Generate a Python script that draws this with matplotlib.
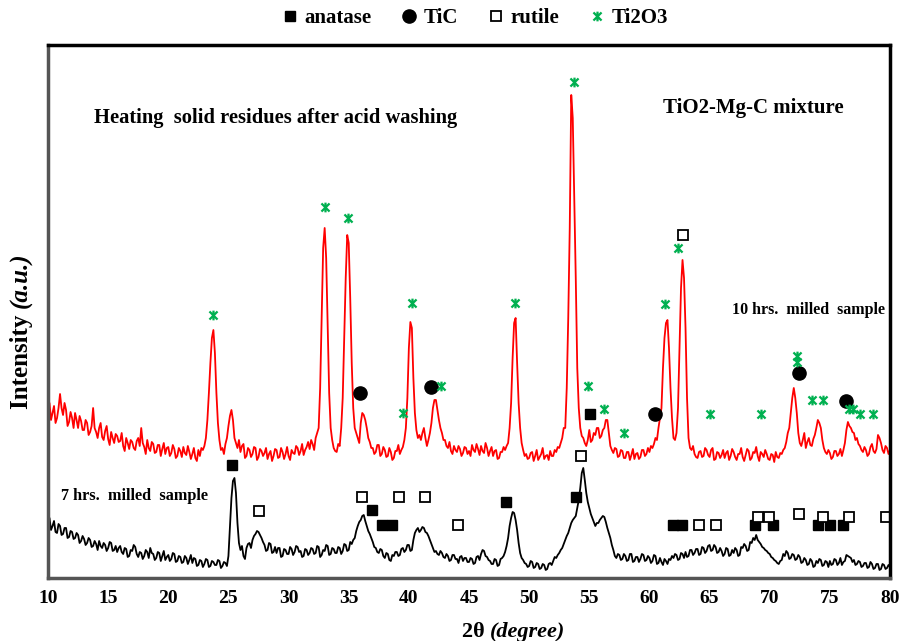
import numpy as np
import matplotlib
matplotlib.use("Agg")
import matplotlib.pyplot as plt
from matplotlib.path import Path

# XRD patterns, 2theta grid 10..80 step 0.125 (arbitrary intensity units)
two_theta = np.arange(10, 80.001, 0.125)

red_10h = [
    168, 175, 158, 165, 172, 155, 160, 170,   184, 170, 163, 175, 168, 152, 156, 166,
    160, 150, 165, 158, 150, 162, 157, 148,   148, 158, 155, 143, 146, 152, 170, 150,
    146, 140, 150, 155, 141, 138, 147, 152,   139, 133, 146, 140, 135, 144, 142, 136,
    137, 145, 132, 127, 140, 135, 129, 138,   136, 130, 128, 137, 140, 132, 150, 135,
    131, 124, 138, 130, 127, 136, 134, 125,   126, 133, 133, 122, 129, 135, 124, 130,
    131, 122, 125, 133, 129, 120, 122, 130,   127, 121, 131, 125, 123, 132, 126, 119,
    124, 130, 120, 117, 128, 122, 130, 128,   132, 140, 158, 185, 215, 240, 248, 225,
    185, 155, 138, 128, 130, 124, 134, 140,   152, 162, 168, 158, 140, 135, 130, 138,
    126, 132, 134, 120, 122, 130, 128, 121,   124, 131, 130, 118, 121, 129, 127, 122,
    125, 130, 119, 124, 127, 117, 122, 129,   128, 120, 121, 130, 126, 119, 124, 131,
    122, 118, 128, 125, 124, 132, 130, 123,   127, 134, 123, 128, 131, 136, 129, 138,
    134, 128, 140, 145, 150, 190, 260, 330,   350, 320, 250, 185, 150, 138, 130, 127,
    126, 134, 132, 150, 180, 240, 300, 343,   335, 280, 215, 170, 150, 145, 140, 135,
    155, 165, 163, 158, 150, 140, 136, 130,   130, 124, 126, 133, 133, 122, 124, 131,
    128, 121, 122, 130, 126, 118, 120, 127,   127, 133, 124, 128, 131, 138, 150, 180,
    230, 256, 250, 200, 165, 148, 140, 143,   138, 145, 150, 140, 132, 138, 145, 155,
    170, 178, 178, 168, 158, 150, 145, 138,   138, 132, 130, 136, 127, 124, 132, 128,
    126, 132, 129, 122, 125, 131, 130, 124,   127, 122, 133, 128, 126, 134, 129, 123,
    132, 127, 125, 135, 130, 122, 127, 131,   122, 127, 128, 119, 120, 126, 126, 131,
    128, 132, 135, 150, 175, 220, 255, 260,   215, 175, 150, 135, 128, 122, 124, 119,
    120, 125, 126, 117, 122, 128, 118, 121,   124, 130, 119, 122, 123, 118, 127, 122,
    122, 128, 126, 131, 130, 135, 140, 150,   150, 190, 260, 350, 483, 460, 380, 300,
    210, 170, 150, 142, 140, 135, 132, 138,   148, 136, 138, 145, 143, 150, 150, 140,
    142, 148, 150, 158, 158, 145, 132, 128,   125, 130, 129, 121, 122, 128, 127, 120,
    120, 126, 126, 118, 123, 129, 119, 124,   125, 119, 121, 128, 128, 122, 124, 130,
    126, 132, 130, 134, 140, 138, 150, 160,   170, 210, 240, 255, 258, 230, 190, 160,
    140, 138, 145, 170, 230, 290, 318, 300,   250, 180, 140, 130, 128, 132, 124, 121,
    120, 126, 127, 121, 122, 130, 128, 123,   121, 128, 130, 118, 119, 126, 125, 120,
    123, 128, 120, 125, 127, 118, 122, 129,   126, 121, 118, 124, 124, 130, 121, 117,
    123, 129, 127, 118, 120, 126, 125, 131,   122, 117, 126, 124, 121, 128, 124, 119,
    118, 124, 123, 116, 126, 121, 120, 125,   124, 128, 130, 136, 145, 150, 165, 180,
    190, 180, 165, 145, 135, 132, 138, 145,   130, 136, 140, 133, 132, 139, 143, 150,
    158, 155, 150, 138, 130, 126, 124, 128,   125, 119, 121, 127, 127, 122, 124, 129,
    122, 128, 135, 148, 156, 152, 150, 146,   145, 138, 140, 134, 132, 128, 126, 131,
    128, 122, 124, 131, 134, 127, 125, 129,   143, 140, 135, 128, 125, 132, 130, 124,
    128,
]

black_7h = [
    55, 60, 48, 52, 57, 46, 45, 54,   52, 43, 44, 50, 50, 40, 41, 47,
    46, 39, 40, 45, 43, 35, 37, 42,   39, 33, 35, 40, 38, 31, 32, 37,
    34, 28, 37, 32, 30, 35, 33, 27,   30, 36, 35, 27, 28, 32, 26, 30,
    32, 26, 24, 30, 29, 21, 22, 28,   27, 33, 31, 24, 21, 26, 25, 19,
    22, 28, 26, 20, 30, 25, 24, 18,   20, 26, 25, 17, 22, 27, 18, 21,
    23, 17, 19, 25, 24, 16, 17, 22,   21, 15, 16, 22, 20, 14, 18, 23,
    15, 20, 19, 12, 13, 18, 17, 11,   14, 19, 18, 11, 12, 17, 16, 13,
    13, 18, 17, 10, 12, 16, 15, 12,   22, 50, 80, 97, 100, 85, 55, 35,
    28, 32, 22, 19, 30, 34, 35, 30,   38, 42, 44, 47, 46, 43, 40, 36,
    33, 27, 28, 35, 34, 25, 26, 31,   25, 30, 30, 21, 22, 29, 28, 24,
    24, 31, 29, 23, 26, 32, 31, 26,   27, 21, 22, 29, 28, 23, 25, 30,
    29, 24, 25, 32, 31, 21, 23, 28,   27, 33, 32, 23, 24, 30, 29, 25,
    25, 31, 30, 24, 27, 34, 33, 27,   28, 36, 34, 38, 40, 47, 52, 56,
    58, 62, 63, 57, 52, 47, 44, 40,   36, 31, 30, 26, 25, 29, 28, 22,
    20, 25, 24, 18, 17, 23, 22, 26,   26, 22, 23, 29, 30, 26, 28, 33,
    33, 27, 28, 38, 45, 48, 50, 46,   48, 51, 50, 46, 45, 42, 38, 34,
    30, 26, 27, 24, 23, 27, 25, 21,   20, 24, 22, 17, 18, 23, 23, 19,
    19, 15, 21, 22, 17, 20, 20, 16,   16, 20, 19, 14, 15, 21, 22, 18,
    24, 28, 27, 22, 21, 18, 17, 14,   14, 19, 18, 12, 13, 19, 20, 22,
    26, 32, 40, 52, 60, 66, 65, 58,   48, 35, 25, 20, 18, 15, 14, 11,
    12, 17, 16, 10, 11, 15, 14, 9,    10, 14, 13, 8, 9, 14, 15, 13,
    17, 21, 20, 23, 25, 28, 30, 34,   38, 42, 45, 50, 55, 58, 60, 62,
    70, 78, 90, 105, 110, 98, 85, 76, 70, 64, 60, 56, 52, 55, 55, 58,
    60, 62, 61, 56, 50, 45, 40, 33,   28, 22, 20, 24, 23, 18, 19, 24,
    22, 17, 18, 24, 24, 16, 17, 21,   21, 16, 19, 24, 23, 17, 18, 22,
    20, 15, 17, 23, 22, 14, 15, 20,   16, 13, 19, 17, 14, 19, 18, 22,
    20, 24, 23, 18, 19, 25, 24, 20,   26, 21, 22, 28, 28, 23, 25, 29,
    29, 23, 24, 31, 30, 25, 27, 32,   33, 27, 28, 33, 31, 25, 26, 30,
    27, 22, 24, 30, 29, 22, 23, 28,   25, 30, 28, 22, 23, 31, 30, 34,
    32, 27, 28, 36, 35, 40, 38, 43,   38, 36, 34, 31, 30, 28, 27, 25,
    24, 21, 20, 18, 17, 15, 14, 17,   18, 24, 22, 27, 25, 19, 20, 24,
    23, 18, 19, 23, 21, 15, 16, 20,   18, 13, 14, 19, 17, 11, 12, 17,
    15, 19, 18, 12, 13, 17, 16, 11,   17, 13, 14, 19, 18, 13, 15, 20,
    13, 16, 17, 23, 22, 21, 20, 16,   18, 13, 14, 17, 16, 11, 12, 15,
    15, 10, 11, 16, 14, 9, 10, 14,    14, 8, 9, 14, 13, 9, 10, 13,
    11,
]

# phase markers (2theta, height)
ti2o3_x = [23.7, 33.0, 34.9, 39.5, 40.3, 42.7, 48.8, 53.7, 54.9, 56.2, 57.9, 61.3, 62.4,
           65.0, 69.3, 72.3, 72.3, 73.5, 74.4, 76.6, 76.9, 77.5, 78.6]
ti2o3_y = [263, 371, 360, 165, 275, 192, 275, 496, 192, 169, 145, 274, 330,
           164, 164, 222, 216, 178, 178, 169, 169, 164, 164]
tic_x = [35.9, 41.8, 60.5, 72.4, 76.3]
tic_y = [185, 191, 164, 205, 177]
anatase_x = [25.3, 55.1, 36.9, 37.8, 38.6, 48.1, 53.9, 62.0, 62.7, 68.8, 70.3, 74.0, 75.0, 76.1]
anatase_y = [113, 164, 68, 53, 53, 76, 81, 53, 53, 53, 53, 53, 53, 53]
rutile_x = [27.5, 36.1, 39.2, 41.3, 44.1, 54.3, 62.8, 64.1, 65.5, 69.0, 69.9, 72.4, 74.4, 76.6, 79.7]
rutile_y = [67, 81, 81, 81, 53, 122, 343, 53, 53, 61, 61, 64, 61, 61, 61]

# excel-like star: X plus a vertical bar
star = Path([(-1, -1), (1, 1), (-1, 1), (1, -1), (0, -1.2), (0, 1.2)],
            [Path.MOVETO, Path.LINETO] * 3)

plt.rcParams['font.family'] = ['Liberation Serif', 'DejaVu Serif']
plt.rcParams['font.weight'] = 'bold'

fig = plt.figure(figsize=(8.99, 6.41), dpi=100)
ax = fig.add_axes([0.0534, 0.0983, 0.9366, 0.8315])

ax.plot(two_theta, red_10h, color='#ff0000', lw=1.3)
ax.plot(two_theta, black_7h, color='black', lw=1.3)

h1, = ax.plot(anatase_x, anatase_y, ls='none', marker='s', ms=7, color='black', label='anatase')
h2, = ax.plot(tic_x, tic_y, ls='none', marker='o', ms=9.5, color='black', label='TiC')
h3, = ax.plot(rutile_x, rutile_y, ls='none', marker='s', ms=7, mfc='white', mec='black',
              mew=1.3, label='rutile')
h4, = ax.plot(ti2o3_x, ti2o3_y, ls='none', marker=star, ms=7, mew=1.6,
              color='#00b050', label='Ti2O3')

ax.set_xlim(10, 80)
ax.set_ylim(0, 533)
ax.set_xticks(range(10, 81, 5))
ax.set_yticks([])
ax.tick_params(axis='x', length=0, pad=9, labelsize=14)
for lab in ax.get_xticklabels():
    lab.set_fontweight('bold')
for s in ['left', 'bottom']:
    ax.spines[s].set_color('#555555')
    ax.spines[s].set_linewidth(2.5)
for s in ['top', 'right']:
    ax.spines[s].set_color('black')
    ax.spines[s].set_linewidth(2.5)

ax.text(13.8, 460, 'Heating  solid residues after acid washing', fontsize=14.8,
        fontweight='bold', va='center')
ax.text(61.1, 470, 'TiO2-Mg-C mixture', fontsize=15, fontweight='bold', va='center')
ax.text(66.9, 268, '10 hrs.  milled  sample', fontsize=11.5, fontweight='bold', va='center')
ax.text(11.1, 82, '7 hrs.  milled  sample', fontsize=11.7, fontweight='bold', va='center')

fig.legend(handles=[h1, h2, h3, h4], loc='center', bbox_to_anchor=(0.528, 0.972), ncol=4,
           frameon=False, prop={'size': 15, 'weight': 'bold'}, handlelength=0.8,
           handletextpad=0.3, columnspacing=1.4)

fig.text(0.545, 0.014, '2\u03b8 ', fontsize=16, fontweight='bold', ha='right', va='center')
fig.text(0.545, 0.014, '(degree)', fontsize=16, fontweight='bold', style='italic',
         ha='left', va='center')
fig.text(0.024, 0.519, 'Intensity ', fontsize=18, fontweight='bold', rotation=90,
         ha='center', va='top')
fig.text(0.024, 0.519, '(a.u.)', fontsize=18, fontweight='bold', style='italic',
         rotation=90, ha='center', va='bottom')

fig.savefig('out.png', dpi=100)
